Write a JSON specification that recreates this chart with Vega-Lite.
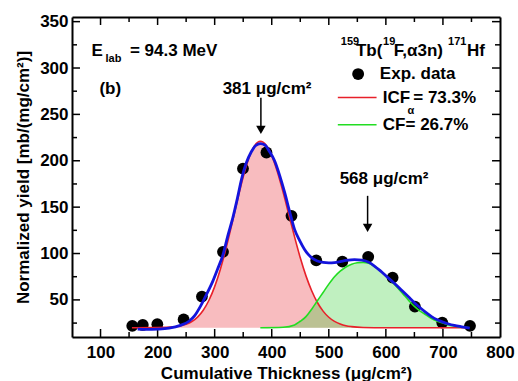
{
  "$schema": "https://vega.github.io/schema/vega-lite/v6.json",
  "width": 428,
  "height": 320,
  "autosize": {"type": "none"},
  "padding": {"left": 72, "top": 17, "right": 18, "bottom": 44},
  "background": "white",
  "config": {"view": {"stroke": null}, "font": "Liberation Sans"},
  "datasets": {
    "pts": [
      {"x": 155.6, "y": 22}, {"x": 174, "y": 23}, {"x": 199.5, "y": 23.8}, {"x": 245.6, "y": 29},
      {"x": 277.7, "y": 53.6}, {"x": 314.6, "y": 101.8}, {"x": 349.6, "y": 191.6}, {"x": 390.7, "y": 208.9},
      {"x": 434.6, "y": 140.6}, {"x": 478, "y": 92.6}, {"x": 523.7, "y": 91.3}, {"x": 569, "y": 96.4},
      {"x": 611.8, "y": 74}, {"x": 650.9, "y": 42.8}, {"x": 698.8, "y": 25.5}, {"x": 747.4, "y": 22}
    ],
    "red": [
      {"x": 155, "y": 20}, {"x": 200, "y": 20.1}, {"x": 230, "y": 21}, {"x": 250, "y": 23.7}, {"x": 260, "y": 26.7},
      {"x": 270, "y": 31.5}, {"x": 280, "y": 38.9}, {"x": 290, "y": 49.6}, {"x": 300, "y": 64.3}, {"x": 310, "y": 83.1},
      {"x": 320, "y": 105.8}, {"x": 330, "y": 131.3}, {"x": 340, "y": 157.7}, {"x": 350, "y": 182.5}, {"x": 360, "y": 202.9},
      {"x": 370, "y": 216.3}, {"x": 380, "y": 221}, {"x": 390, "y": 217}, {"x": 400, "y": 205.5}, {"x": 410, "y": 187.9},
      {"x": 420, "y": 166}, {"x": 430, "y": 142}, {"x": 440, "y": 117.9}, {"x": 450, "y": 95.4}, {"x": 460, "y": 75.9},
      {"x": 470, "y": 59.8}, {"x": 480, "y": 47.2}, {"x": 490, "y": 37.9}, {"x": 500, "y": 31.3}, {"x": 510, "y": 26.8},
      {"x": 520, "y": 24}, {"x": 530, "y": 22.2}, {"x": 540, "y": 21.2}, {"x": 560, "y": 20.3}, {"x": 600, "y": 20},
      {"x": 745, "y": 20}
    ],
    "green": [
      {"x": 380, "y": 20}, {"x": 420, "y": 20.5}, {"x": 440, "y": 23}, {"x": 450, "y": 27}, {"x": 460, "y": 32},
      {"x": 470, "y": 40}, {"x": 480, "y": 49}, {"x": 490, "y": 58}, {"x": 500, "y": 67}, {"x": 510, "y": 75},
      {"x": 520, "y": 81}, {"x": 530, "y": 85.5}, {"x": 540, "y": 88.5}, {"x": 550, "y": 90}, {"x": 560, "y": 90.5},
      {"x": 570, "y": 89.5}, {"x": 580, "y": 86}, {"x": 590, "y": 81.5}, {"x": 600, "y": 76}, {"x": 610, "y": 70},
      {"x": 620, "y": 63.5}, {"x": 630, "y": 56.5}, {"x": 640, "y": 49.5}, {"x": 650, "y": 43}, {"x": 660, "y": 38},
      {"x": 670, "y": 34}, {"x": 680, "y": 30}, {"x": 690, "y": 27}, {"x": 700, "y": 25}, {"x": 710, "y": 23},
      {"x": 720, "y": 21.8}, {"x": 730, "y": 20.8}, {"x": 745, "y": 20.3}
    ],
    "blue": [
      {"x": 165, "y": 18.5}, {"x": 180, "y": 18.2}, {"x": 200, "y": 18.5}, {"x": 220, "y": 19.5}, {"x": 240, "y": 22.5},
      {"x": 255, "y": 27}, {"x": 265, "y": 33}, {"x": 275, "y": 43}, {"x": 285, "y": 55}, {"x": 297, "y": 70.5},
      {"x": 305, "y": 83}, {"x": 315, "y": 99.5}, {"x": 323, "y": 119}, {"x": 332, "y": 139}, {"x": 340, "y": 160},
      {"x": 347, "y": 180}, {"x": 355, "y": 197}, {"x": 364, "y": 209.5}, {"x": 372, "y": 216.5}, {"x": 380, "y": 218.5},
      {"x": 388, "y": 217}, {"x": 396, "y": 210}, {"x": 405, "y": 200}, {"x": 414, "y": 184}, {"x": 423, "y": 165},
      {"x": 431, "y": 146}, {"x": 440, "y": 126}, {"x": 449, "y": 114}, {"x": 457, "y": 105}, {"x": 464, "y": 99},
      {"x": 472, "y": 94.5}, {"x": 480, "y": 92}, {"x": 490, "y": 90.5}, {"x": 500, "y": 90}, {"x": 510, "y": 90.3},
      {"x": 520, "y": 91.3}, {"x": 530, "y": 92.5}, {"x": 545, "y": 93.5}, {"x": 558, "y": 92.8}, {"x": 570, "y": 90.5},
      {"x": 580, "y": 86.5}, {"x": 590, "y": 81.5}, {"x": 600, "y": 76}, {"x": 610, "y": 70.5}, {"x": 620, "y": 65},
      {"x": 630, "y": 59}, {"x": 640, "y": 53}, {"x": 650, "y": 47}, {"x": 660, "y": 41.5}, {"x": 670, "y": 36.5},
      {"x": 680, "y": 32}, {"x": 690, "y": 28.5}, {"x": 700, "y": 26}, {"x": 710, "y": 24}, {"x": 720, "y": 22.5},
      {"x": 733, "y": 21}, {"x": 747, "y": 19.5}
    ],
    "arrows": [
      {"x": 381, "y": 267.9, "y2": 236, "tip": 233.4},
      {"x": 568, "y": 162.2, "y2": 131, "tip": 127.7}
    ],
    "xMajor": [{"v": 100}, {"v": 200}, {"v": 300}, {"v": 400}, {"v": 500}, {"v": 600}, {"v": 700}],
    "xMinor": [{"v": 150}, {"v": 250}, {"v": 350}, {"v": 450}, {"v": 550}, {"v": 650}, {"v": 750}],
    "yMajor": [{"v": 50}, {"v": 100}, {"v": 150}, {"v": 200}, {"v": 250}, {"v": 300}, {"v": 350}],
    "yMinor": [{"v": 25}, {"v": 75}, {"v": 125}, {"v": 175}, {"v": 225}, {"v": 275}, {"v": 325}],
    "bigText": [
      {"x": 84.2, "y": 318.6, "label": "E"},
      {"x": 151.5, "y": 318.6, "label": "= 94.3 MeV"},
      {"x": 98, "y": 277, "label": "(b)"},
      {"x": 314, "y": 277.6, "label": "381 μg/cm²"},
      {"x": 519, "y": 180, "label": "568 μg/cm²"},
      {"x": 589.5, "y": 293.5, "label": "Exp. data"},
      {"x": 594.7, "y": 268.2, "label": "ICF"},
      {"x": 648, "y": 268.2, "label": "= 73.3%"},
      {"x": 594.7, "y": 238.8, "label": "CF= 26.7%"},
      {"x": 547.5, "y": 318.6, "label": "Tb("},
      {"x": 614, "y": 318.6, "label": "F,α3n)"},
      {"x": 742, "y": 318.6, "label": "Hf"}
    ],
    "smallText": [
      {"x": 108.8, "y": 310, "label": "lab"},
      {"x": 638, "y": 254, "label": "α"},
      {"x": 521, "y": 327.6, "label": "159"},
      {"x": 595, "y": 327.6, "label": "19"},
      {"x": 709, "y": 327.6, "label": "171"}
    ],
    "legendPoint": [{"x": 551.4, "y": 293.5}],
    "legendRed": [{"x": 515.8, "x2": 583.7, "y": 268.2}],
    "legendGreen": [{"x": 515.8, "x2": 583.7, "y": 238.8}]
  },
  "layer": [
    {
      "data": {"name": "red"},
      "mark": {"type": "area", "interpolate": "monotone", "color": "#e8202a", "opacity": 0.3},
      "encoding": {
        "x": {"field": "x", "type": "quantitative", "scale": {"domain": [50, 800], "nice": false, "zero": false},
          "axis": {"orient": "bottom", "values": [100,200,300,400,500,600,700,800],
            "ticks": false, "domainColor": "black", "domainWidth": 2, "grid": false,
            "labelFont": "Liberation Sans", "labelFontWeight": "bold", "labelFontSize": 17, "labelColor": "black",
            "labelPadding": 7, "labelFlush": false, "labelOverlap": false,
            "title": "Cumulative Thickness (μg/cm²)", "titleFont": "Liberation Sans", "titleFontWeight": "bold",
            "titleFontSize": 17, "titleColor": "black", "titlePadding": 5}},
        "y": {"field": "y", "type": "quantitative", "scale": {"domain": [10, 355], "nice": false, "zero": false},
          "axis": {"orient": "left", "values": [50,100,150,200,250,300,350],
            "ticks": false, "domainColor": "black", "domainWidth": 2, "grid": false,
            "labelFont": "Liberation Sans", "labelFontWeight": "bold", "labelFontSize": 17, "labelColor": "black",
            "labelPadding": 4, "labelFlush": false, "labelOverlap": false,
            "title": "Normalized yield [mb/(mg/cm²)]", "titleFont": "Liberation Sans", "titleFontWeight": "bold",
            "titleFontSize": 17, "titleColor": "black", "titlePadding": 7}},
        "y2": {"datum": 20}
      }
    },
    {
      "data": {"name": "green"},
      "mark": {"type": "area", "interpolate": "monotone", "color": "#2ecc2e", "opacity": 0.3},
      "encoding": {
        "x": {"field": "x", "type": "quantitative", "scale": {"domain": [50, 800], "nice": false, "zero": false},
          "axis": {"orient": "top", "labels": false, "ticks": false,
            "domainColor": "black", "domainWidth": 2, "grid": false, "title": null}},
        "y": {"field": "y", "type": "quantitative", "scale": {"domain": [10, 355], "nice": false, "zero": false},
          "axis": {"orient": "right", "labels": false, "ticks": false,
            "domainColor": "black", "domainWidth": 2, "grid": false, "title": null}},
        "y2": {"datum": 20}
      }
    },
    {
      "data": {"name": "xMajor"},
      "mark": {"type": "rule", "color": "black", "strokeWidth": 1.5},
      "encoding": {"x": {"field": "v", "type": "quantitative", "axis": null}, "y": {"datum": 10, "type": "quantitative", "axis": null}, "y2": {"datum": 18.6}}
    },
    {
      "data": {"name": "xMinor"},
      "mark": {"type": "rule", "color": "black", "strokeWidth": 1.5},
      "encoding": {"x": {"field": "v", "type": "quantitative", "axis": null}, "y": {"datum": 10, "type": "quantitative", "axis": null}, "y2": {"datum": 15.4}}
    },
    {
      "data": {"name": "xMajor"},
      "mark": {"type": "rule", "color": "black", "strokeWidth": 1.5},
      "encoding": {"x": {"field": "v", "type": "quantitative", "axis": null}, "y": {"datum": 355, "type": "quantitative", "axis": null}, "y2": {"datum": 346.4}}
    },
    {
      "data": {"name": "xMinor"},
      "mark": {"type": "rule", "color": "black", "strokeWidth": 1.5},
      "encoding": {"x": {"field": "v", "type": "quantitative", "axis": null}, "y": {"datum": 355, "type": "quantitative", "axis": null}, "y2": {"datum": 349.6}}
    },
    {
      "data": {"name": "yMajor"},
      "mark": {"type": "rule", "color": "black", "strokeWidth": 1.5},
      "encoding": {"y": {"field": "v", "type": "quantitative", "axis": null}, "x": {"datum": 50, "type": "quantitative", "axis": null}, "x2": {"datum": 64}}
    },
    {
      "data": {"name": "yMinor"},
      "mark": {"type": "rule", "color": "black", "strokeWidth": 1.5},
      "encoding": {"y": {"field": "v", "type": "quantitative", "axis": null}, "x": {"datum": 50, "type": "quantitative", "axis": null}, "x2": {"datum": 58.8}}
    },
    {
      "data": {"name": "yMajor"},
      "mark": {"type": "rule", "color": "black", "strokeWidth": 1.5},
      "encoding": {"y": {"field": "v", "type": "quantitative", "axis": null}, "x": {"datum": 800, "type": "quantitative", "axis": null}, "x2": {"datum": 786}}
    },
    {
      "data": {"name": "yMinor"},
      "mark": {"type": "rule", "color": "black", "strokeWidth": 1.5},
      "encoding": {"y": {"field": "v", "type": "quantitative", "axis": null}, "x": {"datum": 800, "type": "quantitative", "axis": null}, "x2": {"datum": 791.2}}
    },
    {
      "data": {"name": "pts"},
      "mark": {"type": "point", "filled": true, "color": "black", "opacity": 1, "size": 140},
      "encoding": {
        "x": {"field": "x", "type": "quantitative", "axis": null},
        "y": {"field": "y", "type": "quantitative", "axis": null}
      }
    },
    {
      "data": {"name": "red"},
      "mark": {"type": "line", "interpolate": "monotone", "color": "#e8202a", "strokeWidth": 1.6},
      "encoding": {
        "x": {"field": "x", "type": "quantitative", "axis": null},
        "y": {"field": "y", "type": "quantitative", "axis": null}
      }
    },
    {
      "data": {"name": "green"},
      "mark": {"type": "line", "interpolate": "monotone", "color": "#22dd22", "strokeWidth": 1.6},
      "encoding": {
        "x": {"field": "x", "type": "quantitative", "axis": null},
        "y": {"field": "y", "type": "quantitative", "axis": null}
      }
    },
    {
      "data": {"name": "blue"},
      "mark": {"type": "line", "interpolate": "monotone", "color": "#1414dc", "strokeWidth": 2.8},
      "encoding": {
        "x": {"field": "x", "type": "quantitative", "axis": null},
        "y": {"field": "y", "type": "quantitative", "axis": null}
      }
    },
    {
      "data": {"name": "arrows"},
      "mark": {"type": "rule", "color": "black", "strokeWidth": 1.5},
      "encoding": {
        "x": {"field": "x", "type": "quantitative", "axis": null},
        "y": {"field": "y", "type": "quantitative", "axis": null},
        "y2": {"field": "y2"}
      }
    },
    {
      "data": {"name": "arrows"},
      "mark": {"type": "point", "shape": "triangle-down", "filled": true, "color": "black", "opacity": 1, "size": 90},
      "encoding": {
        "x": {"field": "x", "type": "quantitative", "axis": null},
        "y": {"field": "tip", "type": "quantitative", "axis": null}
      }
    },
    {
      "data": {"name": "legendPoint"},
      "mark": {"type": "point", "filled": true, "color": "black", "opacity": 1, "size": 140},
      "encoding": {
        "x": {"field": "x", "type": "quantitative", "axis": null},
        "y": {"field": "y", "type": "quantitative", "axis": null}
      }
    },
    {
      "data": {"name": "legendRed"},
      "mark": {"type": "rule", "color": "#e8202a", "strokeWidth": 1.6},
      "encoding": {
        "x": {"field": "x", "type": "quantitative", "axis": null},
        "x2": {"field": "x2"},
        "y": {"field": "y", "type": "quantitative", "axis": null}
      }
    },
    {
      "data": {"name": "legendGreen"},
      "mark": {"type": "rule", "color": "#22dd22", "strokeWidth": 1.6},
      "encoding": {
        "x": {"field": "x", "type": "quantitative", "axis": null},
        "x2": {"field": "x2"},
        "y": {"field": "y", "type": "quantitative", "axis": null}
      }
    },
    {
      "data": {"name": "bigText"},
      "mark": {"type": "text", "align": "left", "baseline": "middle", "font": "Liberation Sans", "fontWeight": "bold", "fontSize": 17, "color": "black"},
      "encoding": {
        "x": {"field": "x", "type": "quantitative", "axis": null},
        "y": {"field": "y", "type": "quantitative", "axis": null},
        "text": {"field": "label"}
      }
    },
    {
      "data": {"name": "smallText"},
      "mark": {"type": "text", "align": "left", "baseline": "middle", "font": "Liberation Sans", "fontWeight": "bold", "fontSize": 11, "color": "black"},
      "encoding": {
        "x": {"field": "x", "type": "quantitative", "axis": null},
        "y": {"field": "y", "type": "quantitative", "axis": null},
        "text": {"field": "label"}
      }
    }
  ],
  "resolve": {"axis": {"x": "independent", "y": "independent"}}
}
